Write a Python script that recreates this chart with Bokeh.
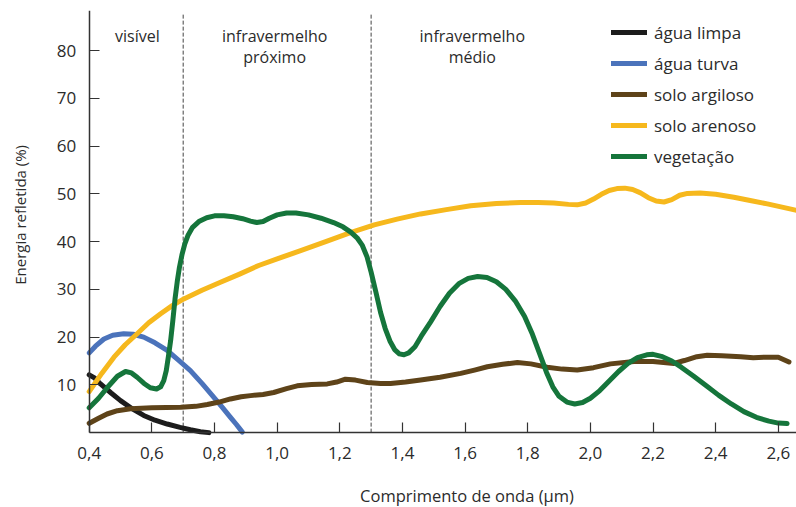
import math
from bokeh.plotting import figure
from bokeh.models import (FixedTicker, CustomJSTickFormatter, Legend, LegendItem, Range1d)
from bokeh.embed import file_html
from bokeh.resources import INLINE
from bokeh.core.properties import value

FONT = "Open Sans"
TXT = "#2b2b2b"

# ---- data ----
agua_limpa_x = [0.40, 0.418, 0.436, 0.47, 0.50, 0.535, 0.574, 0.61, 0.649, 0.69, 0.723, 0.755, 0.782]
agua_limpa_y = [12.1, 11.4, 10.2, 8.3, 6.7, 5.1, 3.6, 2.6, 1.8, 1.1, 0.6, 0.2, 0.0]

agua_turva_x = [0.40, 0.42, 0.447, 0.475, 0.51, 0.54, 0.574, 0.61, 0.649, 0.685, 0.723, 0.76,
                0.798, 0.825, 0.851, 0.87, 0.889]
agua_turva_y = [16.7, 18.1, 19.6, 20.4, 20.7, 20.6, 20.0, 18.8, 17.2, 15.2, 13.0, 10.3,
                7.4, 5.3, 3.2, 1.7, 0.1]

solo_argiloso_x = [0.40, 0.43, 0.457, 0.49, 0.532, 0.60, 0.692, 0.74, 0.777, 0.815, 0.851,
                   0.885, 0.915, 0.955, 0.989, 1.03, 1.064, 1.11, 1.16, 1.19, 1.218, 1.25,
                   1.288, 1.33, 1.362, 1.41, 1.458, 1.52, 1.586, 1.63, 1.671, 1.72, 1.767,
                   1.81, 1.862, 1.91, 1.958, 2.01, 2.064, 2.139, 2.20, 2.267, 2.30, 2.34,
                   2.373, 2.42, 2.48, 2.52, 2.565, 2.60, 2.634]
solo_argiloso_y = [1.95, 3.0, 3.9, 4.6, 5.0, 5.2, 5.3, 5.5, 5.9, 6.4, 7.05,
                   7.5, 7.75, 8.0, 8.4, 9.2, 9.8, 10.1, 10.2, 10.6, 11.2, 11.0,
                   10.5, 10.3, 10.3, 10.6, 11.0, 11.6, 12.4, 13.1, 13.8, 14.3, 14.7,
                   14.4, 13.7, 13.3, 13.1, 13.6, 14.4, 14.9, 14.9, 14.5, 15.1, 15.9,
                   16.2, 16.1, 15.9, 15.7, 15.8, 15.8, 14.8]

solo_arenoso_x = [0.40, 0.44, 0.479, 0.515, 0.553, 0.59, 0.628, 0.665, 0.702, 0.76,
                  0.819, 0.88, 0.941, 1.0, 1.075, 1.155, 1.234, 1.31, 1.383, 1.458,
                  1.54, 1.618, 1.70, 1.777, 1.833, 1.883, 1.93, 1.958, 1.985, 2.01,
                  2.035, 2.06, 2.085, 2.11, 2.135, 2.16, 2.185, 2.21, 2.235, 2.26,
                  2.285, 2.31, 2.35, 2.40, 2.458, 2.51, 2.565, 2.655]
solo_arenoso_y = [8.6, 12.4, 15.8, 18.4, 20.7, 23.0, 24.9, 26.6, 28.0, 29.8,
                  31.5, 33.2, 35.0, 36.4, 38.1, 40.0, 41.9, 43.5, 44.7, 45.8,
                  46.7, 47.5, 48.0, 48.2, 48.2, 48.1, 47.8, 47.7, 48.1, 48.9,
                  49.9, 50.7, 51.1, 51.2, 50.9, 50.2, 49.2, 48.5, 48.3, 48.8,
                  49.7, 50.1, 50.2, 49.9, 49.3, 48.6, 47.9, 46.6]

vegetacao_x = [0.40, 0.43, 0.46, 0.49, 0.516, 0.535, 0.553, 0.575, 0.595, 0.615,
               0.628, 0.638, 0.646, 0.653, 0.66, 0.667, 0.674, 0.681, 0.688, 0.696,
               0.705, 0.716, 0.73, 0.75, 0.775, 0.80, 0.83, 0.86, 0.89, 0.915,
               0.935, 0.955, 0.975, 1.0, 1.03, 1.06, 1.10, 1.14, 1.18, 1.21,
               1.235, 1.255, 1.272, 1.287, 1.30, 1.315, 1.33, 1.345, 1.36, 1.375,
               1.39, 1.405, 1.42, 1.44, 1.46, 1.49, 1.52, 1.55, 1.58, 1.61,
               1.64, 1.67, 1.70, 1.73, 1.76, 1.79, 1.815, 1.84, 1.86, 1.88,
               1.90, 1.925, 1.95, 1.975, 2.00, 2.03, 2.06, 2.09, 2.12, 2.15,
               2.18, 2.20, 2.23, 2.26, 2.29, 2.33, 2.37, 2.41, 2.45, 2.49,
               2.53, 2.57, 2.60, 2.628]
vegetacao_y = [5.2, 7.2, 9.6, 11.8, 12.8, 12.5, 11.6, 10.3, 9.4, 9.15,
               9.6, 10.9, 13.0, 16.0, 19.3, 23.5, 28.0, 31.6, 34.6, 37.2,
               39.5, 41.4, 43.0, 44.2, 45.0, 45.4, 45.4, 45.2, 44.8, 44.3,
               44.0, 44.2, 44.9, 45.6, 46.0, 46.0, 45.6, 44.9, 44.0, 43.1,
               42.0, 40.8, 39.2, 36.8, 33.6, 29.5, 25.2, 21.8, 19.2, 17.4,
               16.5, 16.3, 16.7, 18.0, 20.2, 23.2, 26.4, 29.2, 31.2, 32.3,
               32.7, 32.5, 31.6, 30.0, 27.6, 24.3, 20.6, 16.2, 12.6, 9.6,
               7.6, 6.4, 6.0, 6.3, 7.2, 8.8, 10.8, 12.8, 14.5, 15.7,
               16.3, 16.4, 15.9, 15.0, 13.7, 11.8, 9.8, 7.8, 6.0, 4.4,
               3.2, 2.4, 2.0, 1.9]

series = [
    ("água limpa", agua_limpa_x, agua_limpa_y, "#1c1c1c"),
    ("água turva", agua_turva_x, agua_turva_y, "#4b73bb"),
    ("solo argiloso", solo_argiloso_x, solo_argiloso_y, "#5e4319"),
    ("solo arenoso", solo_arenoso_x, solo_arenoso_y, "#f6b81d"),
    ("vegetação", vegetacao_x, vegetacao_y, "#15753b"),
]

x_ticks = [0.4, 0.6, 0.8, 1.0, 1.2, 1.4, 1.6, 1.8, 2.0, 2.2, 2.4, 2.6]
y_ticks = [10, 20, 30, 40, 50, 60, 70, 80]
region_bounds = [0.7, 1.3]
region_line1 = ["visível", "infravermelho", "infravermelho"]
region_line2 = ["", "próximo", "médio"]
region_centers = [0.554, 0.992, 1.623]
x_title = "Comprimento de onda (µm)"
y_title = "Energia refletida (%)"

X0, X1 = 0.4, 2.658
Y0, Y1 = 0.0, 88.4
p = figure(width=796, height=507, output_backend="svg", toolbar_location=None,
           x_range=Range1d(0.1168, X1), y_range=Range1d(-15.68, Y1),
           min_border_left=0, min_border_right=0, min_border_top=10, min_border_bottom=0)
p.outline_line_color = None
p.xgrid.visible = False
p.ygrid.visible = False
p.background_fill_color = "white"

for ax in (p.xaxis[0], p.yaxis[0]):
    ax.axis_line_color = "#333333"
    ax.axis_line_width = 1.5
    ax.major_tick_line_color = "#333333"
    ax.major_tick_line_width = 1.2
    ax.major_tick_in = 10
    ax.major_tick_out = 0
    ax.minor_tick_line_color = None
    ax.major_label_text_font = FONT
    ax.major_label_text_font_size = "17px"
    ax.major_label_text_color = TXT

p.xaxis.fixed_location = Y0
p.xaxis.bounds = (X0, X1)
p.xaxis.ticker = FixedTicker(ticks=x_ticks)
p.xaxis.formatter = CustomJSTickFormatter(code="return tick.toFixed(1).replace('.', ',');")
p.xaxis.major_label_standoff = 14
p.yaxis.fixed_location = X0
p.yaxis.bounds = (Y0, Y1)
p.yaxis.ticker = FixedTicker(ticks=y_ticks)
p.yaxis.major_label_standoff = 13

p.segment(x0=region_bounds, y0=[Y0] * len(region_bounds), x1=region_bounds,
          y1=[Y1 - 0.6] * len(region_bounds), line_color="#444444",
          line_width=1, line_dash="4 2")

p.text(x=region_centers, y=[83.1] * 3, text=region_line1,
       text_font=value(FONT), text_font_size="16px", text_color=TXT,
       text_align="center", text_baseline="middle")
p.text(x=region_centers, y=[78.6] * 3, text=region_line2,
       text_font=value(FONT), text_font_size="16px", text_color=TXT,
       text_align="center", text_baseline="middle")

items = []
for name, xs, ys, col in series:
    r = p.line(xs, ys, line_color=col, line_width=5, line_cap="round", line_join="round")
    items.append(LegendItem(label=name, renderers=[r]))

legend = Legend(items=items, location=(611, 339), orientation="vertical",
                glyph_width=36, glyph_height=24, label_height=24, spacing=7,
                label_standoff=7, padding=0, margin=0, border_line_color=None,
                background_fill_alpha=0, label_text_font=FONT,
                label_text_font_size="17px", label_text_color=TXT)
p.add_layout(legend, "center")

p.text(x=[1.606], y=[-13.2], text=[x_title], text_font=value(FONT),
       text_font_size="16.5px", text_color=TXT, text_align="center",
       text_baseline="middle")
p.text(x=[0.1775], y=[45.6], text=[y_title], angle=math.pi / 2, text_font=value(FONT),
       text_font_size="15px", text_color=TXT, text_align="center",
       text_baseline="middle")

open("out.html", "w").write(file_html(p, INLINE))
